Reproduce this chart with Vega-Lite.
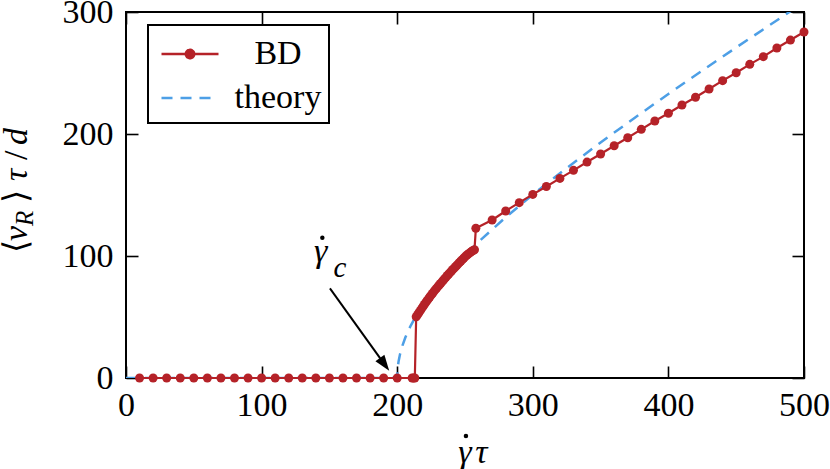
{
  "$schema": "https://vega.github.io/schema/vega-lite/v6.json",
  "width": 678,
  "height": 366,
  "autosize": {"type": "none"},
  "padding": {"left": 126, "top": 12, "right": 26, "bottom": 91},
  "background": "white",
  "config": {
    "font": "serif",
    "view": {"stroke": "black", "strokeWidth": 2},
    "text": {"font": "serif", "color": "black"},
    "axis": {
      "domain": false,
      "grid": false,
      "ticks": true,
      "zindex": 1,
      "offset": -12,
      "tickColor": "black",
      "tickWidth": 1.6,
      "tickSize": 12,
      "labelFont": "serif",
      "labelFontSize": 34,
      "labelColor": "black",
      "labelOverlap": false,
      "labelFlush": false
    }
  },
  "datasets": {
    "curves": [
      {"series": "theory", "x": 0, "v": 0},
      {"series": "theory", "x": 200, "v": 0},
      {"series": "theory", "x": 200.2, "v": 6.0},
      {"series": "theory", "x": 200.5, "v": 9.5},
      {"series": "theory", "x": 201, "v": 13.5},
      {"series": "theory", "x": 202, "v": 19.1},
      {"series": "theory", "x": 204, "v": 27.0},
      {"series": "theory", "x": 206, "v": 33.2},
      {"series": "theory", "x": 208, "v": 38.4},
      {"series": "theory", "x": 210, "v": 43.0},
      {"series": "theory", "x": 215, "v": 53.0},
      {"series": "theory", "x": 220, "v": 61.6},
      {"series": "theory", "x": 230, "v": 76.3},
      {"series": "theory", "x": 240, "v": 89.2},
      {"series": "theory", "x": 250, "v": 100.8},
      {"series": "theory", "x": 260, "v": 111.6},
      {"series": "theory", "x": 280, "v": 131.7},
      {"series": "theory", "x": 300, "v": 150.3},
      {"series": "theory", "x": 325, "v": 172.1},
      {"series": "theory", "x": 350, "v": 193.0},
      {"series": "theory", "x": 375, "v": 213.2},
      {"series": "theory", "x": 400, "v": 232.8},
      {"series": "theory", "x": 425, "v": 252.0},
      {"series": "theory", "x": 450, "v": 270.9},
      {"series": "theory", "x": 475, "v": 289.5},
      {"series": "theory", "x": 500, "v": 308.0},
      {"series": "BD", "x": 10, "v": 0},
      {"series": "BD", "x": 20, "v": 0},
      {"series": "BD", "x": 30, "v": 0},
      {"series": "BD", "x": 40, "v": 0},
      {"series": "BD", "x": 50, "v": 0},
      {"series": "BD", "x": 60, "v": 0},
      {"series": "BD", "x": 70, "v": 0},
      {"series": "BD", "x": 80, "v": 0},
      {"series": "BD", "x": 90, "v": 0},
      {"series": "BD", "x": 100, "v": 0},
      {"series": "BD", "x": 110, "v": 0},
      {"series": "BD", "x": 120, "v": 0},
      {"series": "BD", "x": 130, "v": 0},
      {"series": "BD", "x": 140, "v": 0},
      {"series": "BD", "x": 150, "v": 0},
      {"series": "BD", "x": 160, "v": 0},
      {"series": "BD", "x": 170, "v": 0},
      {"series": "BD", "x": 180, "v": 0},
      {"series": "BD", "x": 190, "v": 0},
      {"series": "BD", "x": 200, "v": 0},
      {"series": "BD", "x": 211, "v": 0},
      {"series": "BD", "x": 212, "v": 0},
      {"series": "BD", "x": 213, "v": 0},
      {"series": "BD", "x": 214, "v": 50.2},
      {"series": "BD", "x": 215, "v": 51.8},
      {"series": "BD", "x": 216, "v": 53.5},
      {"series": "BD", "x": 217, "v": 55.2},
      {"series": "BD", "x": 218, "v": 56.9},
      {"series": "BD", "x": 219, "v": 58.5},
      {"series": "BD", "x": 220, "v": 60.2},
      {"series": "BD", "x": 221, "v": 61.8},
      {"series": "BD", "x": 222, "v": 63.3},
      {"series": "BD", "x": 223, "v": 64.9},
      {"series": "BD", "x": 224, "v": 66.4},
      {"series": "BD", "x": 225, "v": 67.9},
      {"series": "BD", "x": 226, "v": 69.3},
      {"series": "BD", "x": 227, "v": 70.8},
      {"series": "BD", "x": 228, "v": 72.2},
      {"series": "BD", "x": 229, "v": 73.5},
      {"series": "BD", "x": 230, "v": 74.9},
      {"series": "BD", "x": 231, "v": 76.2},
      {"series": "BD", "x": 232, "v": 77.5},
      {"series": "BD", "x": 233, "v": 78.8},
      {"series": "BD", "x": 234, "v": 80.1},
      {"series": "BD", "x": 235, "v": 81.4},
      {"series": "BD", "x": 236, "v": 82.7},
      {"series": "BD", "x": 237, "v": 84.0},
      {"series": "BD", "x": 238, "v": 85.2},
      {"series": "BD", "x": 239, "v": 86.4},
      {"series": "BD", "x": 240, "v": 87.7},
      {"series": "BD", "x": 241, "v": 88.9},
      {"series": "BD", "x": 242, "v": 90.1},
      {"series": "BD", "x": 243, "v": 91.2},
      {"series": "BD", "x": 244, "v": 92.4},
      {"series": "BD", "x": 245, "v": 93.6},
      {"series": "BD", "x": 246, "v": 94.8},
      {"series": "BD", "x": 247, "v": 95.9},
      {"series": "BD", "x": 248, "v": 97.0},
      {"series": "BD", "x": 249, "v": 98.2},
      {"series": "BD", "x": 250, "v": 99.3},
      {"series": "BD", "x": 251, "v": 100.3},
      {"series": "BD", "x": 252, "v": 101.2},
      {"series": "BD", "x": 253, "v": 102.1},
      {"series": "BD", "x": 254, "v": 103.0},
      {"series": "BD", "x": 255, "v": 103.8},
      {"series": "BD", "x": 256, "v": 104.5},
      {"series": "BD", "x": 257, "v": 105.1},
      {"series": "BD", "x": 258, "v": 122.7},
      {"series": "BD", "x": 270, "v": 129.5},
      {"series": "BD", "x": 280, "v": 136.9},
      {"series": "BD", "x": 290, "v": 143.7},
      {"series": "BD", "x": 300, "v": 150.5},
      {"series": "BD", "x": 310, "v": 157.0},
      {"series": "BD", "x": 320, "v": 163.6},
      {"series": "BD", "x": 330, "v": 170.2},
      {"series": "BD", "x": 340, "v": 177.0},
      {"series": "BD", "x": 350, "v": 183.6},
      {"series": "BD", "x": 360, "v": 190.4},
      {"series": "BD", "x": 370, "v": 196.9},
      {"series": "BD", "x": 380, "v": 203.8},
      {"series": "BD", "x": 390, "v": 210.7},
      {"series": "BD", "x": 400, "v": 217.0},
      {"series": "BD", "x": 410, "v": 223.8},
      {"series": "BD", "x": 420, "v": 230.1},
      {"series": "BD", "x": 430, "v": 236.9},
      {"series": "BD", "x": 440, "v": 243.7},
      {"series": "BD", "x": 450, "v": 250.2},
      {"series": "BD", "x": 460, "v": 257.1},
      {"series": "BD", "x": 470, "v": 263.4},
      {"series": "BD", "x": 480, "v": 270.5},
      {"series": "BD", "x": 490, "v": 277.0},
      {"series": "BD", "x": 500, "v": 283.6}
    ]
  },
  "data": {"name": "curves"},
  "layer": [
    {
      "transform": [{"filter": "datum.series === 'theory'"}],
      "mark": {"type": "line", "strokeWidth": 2.5, "strokeDash": [11, 8], "clip": true},
      "encoding": {
        "x": {
          "field": "x", "type": "quantitative",
          "scale": {"domain": [0, 500], "nice": false, "zero": false},
          "axis": {"orient": "bottom", "values": [0, 100, 200, 300, 400, 500], "labelPadding": 10, "title": null}
        },
        "y": {
          "field": "v", "type": "quantitative",
          "scale": {"domain": [0, 300], "nice": false, "zero": false},
          "axis": {"orient": "left", "values": [0, 100, 200, 300], "labelPadding": 13, "title": null}
        },
        "color": {
          "field": "series", "type": "nominal",
          "scale": {"domain": ["BD", "theory"], "range": ["#b52228", "#4d9fe6"]},
          "legend": {
            "orient": "none", "legendX": 22, "legendY": 13, "title": null,
            "padding": 7.5, "rowPadding": 5, "symbolSize": 1600, "symbolOffset": 13, "symbolStrokeWidth": 2.5,
            "labelFont": "serif", "labelFontSize": 34, "labelColor": "black",
            "labelAlign": "center", "labelOffset": 66.5, "labelLimit": 400,
            "strokeColor": "black", "fillColor": "white", "cornerRadius": 0,
            "encode": {
              "legend": {"update": {"strokeWidth": {"value": 2}}},
              "symbols": {"update": {
                "shape": {"signal": "datum.value === 'BD' ? 'M-1.425,0L1.425,0M-0.21,0A0.21,0.21,0,1,0,0.21,0A0.21,0.21,0,1,0,-0.21,0Z' : 'M-1.425,0L1.425,0'"},
                "strokeDash": {"signal": "datum.value === 'theory' ? [11, 8] : [1, 0]"},
                "fill": {"signal": "datum.value === 'BD' ? '#b52228' : 'transparent'"},
                "fillOpacity": {"value": 1},
                "strokeWidth": {"value": 2.5}
              }}
            }
          }
        }
      }
    },
    {
      "transform": [{"filter": "datum.series === 'BD'"}],
      "mark": {"type": "line", "strokeWidth": 2.2, "point": {"filled": true, "size": 81, "opacity": 1}},
      "encoding": {
        "x": {
          "field": "x", "type": "quantitative",
          "scale": {"domain": [0, 500], "nice": false, "zero": false},
          "axis": {"orient": "top", "values": [0, 100, 200, 300, 400, 500], "labels": false, "title": null}
        },
        "y": {
          "field": "v", "type": "quantitative",
          "scale": {"domain": [0, 300], "nice": false, "zero": false},
          "axis": {"orient": "right", "values": [0, 100, 200, 300], "labels": false, "title": null}
        },
        "color": {
          "field": "series", "type": "nominal",
          "scale": {"domain": ["BD", "theory"], "range": ["#b52228", "#4d9fe6"]},
          "legend": {
            "orient": "none", "legendX": 22, "legendY": 13, "title": null,
            "padding": 7.5, "rowPadding": 5, "symbolSize": 1600, "symbolOffset": 13, "symbolStrokeWidth": 2.5,
            "labelFont": "serif", "labelFontSize": 34, "labelColor": "black",
            "labelAlign": "center", "labelOffset": 66.5, "labelLimit": 400,
            "strokeColor": "black", "fillColor": "white", "cornerRadius": 0,
            "encode": {
              "legend": {"update": {"strokeWidth": {"value": 2}}},
              "symbols": {"update": {
                "shape": {"signal": "datum.value === 'BD' ? 'M-1.425,0L1.425,0M-0.21,0A0.21,0.21,0,1,0,0.21,0A0.21,0.21,0,1,0,-0.21,0Z' : 'M-1.425,0L1.425,0'"},
                "strokeDash": {"signal": "datum.value === 'theory' ? [11, 8] : [1, 0]"},
                "fill": {"signal": "datum.value === 'BD' ? '#b52228' : 'transparent'"},
                "fillOpacity": {"value": 1},
                "strokeWidth": {"value": 2.5}
              }}
            }
          }
        }
      }
    },
    {
      "data": {"values": [{}]},
      "mark": {"type": "rule", "color": "black", "strokeWidth": 2},
      "encoding": {
        "x": {"datum": 150.4, "type": "quantitative", "scale": {"domain": [0, 500], "nice": false, "zero": false}, "axis": null},
        "y": {"datum": 73.5, "type": "quantitative", "scale": {"domain": [0, 300], "nice": false, "zero": false}, "axis": null},
        "x2": {"datum": 187.5},
        "y2": {"datum": 16.1}
      }
    },
    {
      "data": {"values": [{}]},
      "mark": {"type": "point", "shape": "M0,0L-0.35,-1L0.35,-1Z", "size": 1000, "angle": 324, "filled": true, "color": "black", "opacity": 1},
      "encoding": {
        "x": {"datum": 194.1, "type": "quantitative", "scale": {"domain": [0, 500], "nice": false, "zero": false}, "axis": null},
        "y": {"datum": 6.0, "type": "quantitative", "scale": {"domain": [0, 300], "nice": false, "zero": false}, "axis": null}
      }
    },
    {
      "data": {"values": [{}]},
      "mark": {"type": "text", "text": "γ", "fontSize": 34, "fontStyle": "italic", "align": "center", "baseline": "alphabetic"},
      "encoding": {
        "x": {"datum": 143.6, "type": "quantitative", "scale": {"domain": [0, 500], "nice": false, "zero": false}, "axis": null},
        "y": {"datum": 95.1, "type": "quantitative", "scale": {"domain": [0, 300], "nice": false, "zero": false}, "axis": null}
      }
    },
    {
      "data": {"values": [{}]},
      "mark": {"type": "point", "shape": "circle", "size": 20, "filled": true, "color": "black", "opacity": 1},
      "encoding": {
        "x": {"datum": 144.8, "type": "quantitative", "scale": {"domain": [0, 500], "nice": false, "zero": false}, "axis": null},
        "y": {"datum": 115.0, "type": "quantitative", "scale": {"domain": [0, 300], "nice": false, "zero": false}, "axis": null}
      }
    },
    {
      "data": {"values": [{}]},
      "mark": {"type": "text", "text": "c", "fontSize": 29, "fontStyle": "italic", "align": "center", "baseline": "alphabetic"},
      "encoding": {
        "x": {"datum": 157.8, "type": "quantitative", "scale": {"domain": [0, 500], "nice": false, "zero": false}, "axis": null},
        "y": {"datum": 83.0, "type": "quantitative", "scale": {"domain": [0, 300], "nice": false, "zero": false}, "axis": null}
      }
    },
    {
      "data": {"values": [{}]},
      "mark": {"type": "text", "text": "γ", "fontSize": 34, "fontStyle": "italic", "align": "center", "baseline": "alphabetic"},
      "encoding": {
        "x": {"datum": 250, "type": "quantitative", "scale": {"domain": [0, 500], "nice": false, "zero": false}, "axis": null},
        "y": {"datum": -69.7, "type": "quantitative", "scale": {"domain": [0, 300], "nice": false, "zero": false}, "axis": null}
      }
    },
    {
      "data": {"values": [{}]},
      "mark": {"type": "point", "shape": "circle", "size": 20, "filled": true, "color": "black", "opacity": 1},
      "encoding": {
        "x": {"datum": 250.7, "type": "quantitative", "scale": {"domain": [0, 500], "nice": false, "zero": false}, "axis": null},
        "y": {"datum": -47.5, "type": "quantitative", "scale": {"domain": [0, 300], "nice": false, "zero": false}, "axis": null}
      }
    },
    {
      "data": {"values": [{}]},
      "mark": {"type": "text", "text": "τ", "fontSize": 34, "fontStyle": "italic", "align": "center", "baseline": "alphabetic"},
      "encoding": {
        "x": {"datum": 262, "type": "quantitative", "scale": {"domain": [0, 500], "nice": false, "zero": false}, "axis": null},
        "y": {"datum": -69.7, "type": "quantitative", "scale": {"domain": [0, 300], "nice": false, "zero": false}, "axis": null}
      }
    },
    {
      "data": {"values": [{}]},
      "mark": {"type": "text", "text": "⟨", "fontSize": 34, "align": "left", "baseline": "alphabetic", "angle": 270, "dx": 0},
      "encoding": {
        "x": {"datum": -73, "type": "quantitative", "scale": {"domain": [0, 500], "nice": false, "zero": false}, "axis": null},
        "y": {"datum": 102.5, "type": "quantitative", "scale": {"domain": [0, 300], "nice": false, "zero": false}, "axis": null}
      }
    },
    {
      "data": {"values": [{}]},
      "mark": {"type": "text", "text": "v", "fontSize": 34, "fontStyle": "italic", "align": "left", "baseline": "alphabetic", "angle": 270, "dx": 12},
      "encoding": {
        "x": {"datum": -73, "type": "quantitative", "scale": {"domain": [0, 500], "nice": false, "zero": false}, "axis": null},
        "y": {"datum": 102.5, "type": "quantitative", "scale": {"domain": [0, 300], "nice": false, "zero": false}, "axis": null}
      }
    },
    {
      "data": {"values": [{}]},
      "mark": {"type": "text", "text": "R", "fontSize": 25, "fontStyle": "italic", "align": "left", "baseline": "alphabetic", "angle": 270, "dx": 27, "dy": 6},
      "encoding": {
        "x": {"datum": -73, "type": "quantitative", "scale": {"domain": [0, 500], "nice": false, "zero": false}, "axis": null},
        "y": {"datum": 102.5, "type": "quantitative", "scale": {"domain": [0, 300], "nice": false, "zero": false}, "axis": null}
      }
    },
    {
      "data": {"values": [{}]},
      "mark": {"type": "text", "text": "⟩", "fontSize": 34, "align": "left", "baseline": "alphabetic", "angle": 270, "dx": 50},
      "encoding": {
        "x": {"datum": -73, "type": "quantitative", "scale": {"domain": [0, 500], "nice": false, "zero": false}, "axis": null},
        "y": {"datum": 102.5, "type": "quantitative", "scale": {"domain": [0, 300], "nice": false, "zero": false}, "axis": null}
      }
    },
    {
      "data": {"values": [{}]},
      "mark": {"type": "text", "text": "τ", "fontSize": 34, "fontStyle": "italic", "align": "left", "baseline": "alphabetic", "angle": 270, "dx": 72},
      "encoding": {
        "x": {"datum": -73, "type": "quantitative", "scale": {"domain": [0, 500], "nice": false, "zero": false}, "axis": null},
        "y": {"datum": 102.5, "type": "quantitative", "scale": {"domain": [0, 300], "nice": false, "zero": false}, "axis": null}
      }
    },
    {
      "data": {"values": [{}]},
      "mark": {"type": "text", "text": "/", "fontSize": 34, "align": "left", "baseline": "alphabetic", "angle": 270, "dx": 93},
      "encoding": {
        "x": {"datum": -73, "type": "quantitative", "scale": {"domain": [0, 500], "nice": false, "zero": false}, "axis": null},
        "y": {"datum": 102.5, "type": "quantitative", "scale": {"domain": [0, 300], "nice": false, "zero": false}, "axis": null}
      }
    },
    {
      "data": {"values": [{}]},
      "mark": {"type": "text", "text": "d", "fontSize": 34, "fontStyle": "italic", "align": "left", "baseline": "alphabetic", "angle": 270, "dx": 108},
      "encoding": {
        "x": {"datum": -73, "type": "quantitative", "scale": {"domain": [0, 500], "nice": false, "zero": false}, "axis": null},
        "y": {"datum": 102.5, "type": "quantitative", "scale": {"domain": [0, 300], "nice": false, "zero": false}, "axis": null}
      }
    }
  ],
  "resolve": {"axis": {"x": "independent", "y": "independent"}}
}
